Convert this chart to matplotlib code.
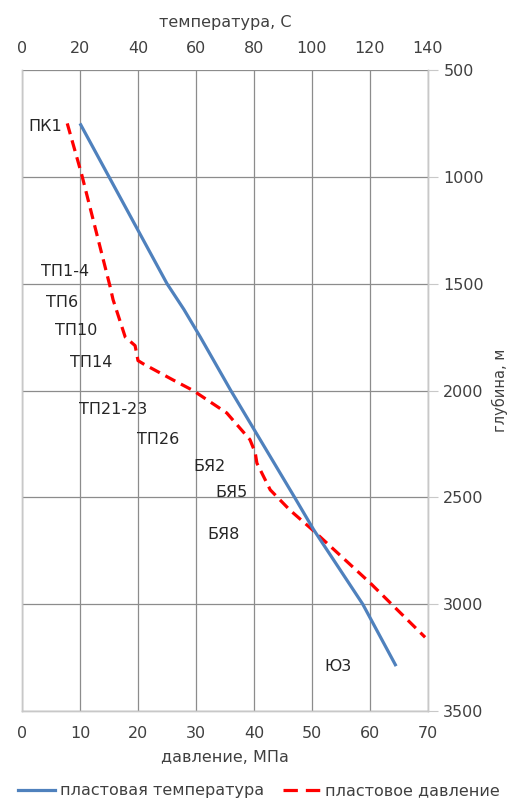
import matplotlib
matplotlib.use("Agg")
import matplotlib.pyplot as plt
from matplotlib.lines import Line2D

plt.rcParams["font.family"] = ["DejaVu Sans"]
plt.rcParams["font.size"] = 11.5

# temperature profile (depth, m -> temperature, C)
temp_depth = [750, 1000, 1250, 1500, 1620, 1750, 2000, 2250, 2500, 2650, 3000, 3290]
temp_values = [20, 30, 40, 50, 55.8, 61.5, 72, 83, 94, 100.5, 117.5, 129]

# pressure profile (depth, m -> pressure, MPa)
pres_depth = [750, 990, 1515, 1575, 1750, 1790, 1860, 1875, 1950, 2000, 2105, 2230,
              2290, 2340, 2465, 2560, 2655, 2900, 3155]
pres_values = [7.8, 10.3, 15.2, 15.7, 17.8, 19.5, 20.0, 20.9, 26.0, 29.5, 35.3, 39.3,
               40.2, 40.5, 42.8, 46.2, 50.2, 60.0, 69.5]

# layer labels: (name, pressure-axis x, depth)
layer_names = ["ПК1", "ТП1-4", "ТП6", "ТП10", "ТП14", "ТП21-23", "ТП26",
               "БЯ2", "БЯ5", "БЯ8", "Ю3"]
layer_x = [4.0, 7.4, 6.9, 9.3, 11.9, 15.7, 23.4, 32.4, 36.2, 34.7, 54.5]
layer_depth = [763, 1445, 1586, 1717, 1871, 2091, 2231, 2358, 2479, 2676, 3294]

pres_ticks = list(range(0, 71, 10))
temp_ticks = list(range(0, 141, 20))
depth_ticks = list(range(500, 3501, 500))

BLUE = "#4F81BD"
RED = "#FF0000"
GRID = "#8c8c8c"
SPINE = "#c8c8c8"
TEXT = "#404040"

fig = plt.figure(figsize=(5.18, 7.99), dpi=100)
ax = fig.add_axes([22 / 518, 1 - 711 / 799, 406 / 518, 641 / 799])
ax_t = ax.twiny()

ax.set_xlim(0, 70)
ax.set_ylim(3500, 500)
ax_t.set_xlim(0, 140)

ax.set_xticks(pres_ticks)
ax.set_yticks(depth_ticks)
ax_t.set_xticks(temp_ticks)

ax.grid(True, color=GRID, linewidth=0.9)
ax.set_axisbelow(True)

for a in (ax, ax_t):
    for side in a.spines:
        a.spines[side].set_color(SPINE)
        a.spines[side].set_linewidth(1.0)
    a.spines["top"].set_visible(False)

ax.yaxis.tick_right()
ax.yaxis.set_label_position("right")
ax.tick_params(axis="y", which="both", length=7, color=SPINE, pad=4, labelcolor=TEXT)
ax.tick_params(axis="x", length=0, pad=11, labelcolor=TEXT)
ax_t.tick_params(axis="x", length=0, pad=10, labelcolor=TEXT)

ax.set_xlabel("давление, МПа", color=TEXT, labelpad=6)
ax_t.set_xlabel("температура, С", color=TEXT, labelpad=10)
ax.set_ylabel("глубина, м", color=TEXT, labelpad=6, fontsize=10.5)

ax_t.plot(temp_values, temp_depth, color=BLUE, linewidth=2.3, solid_capstyle="butt")
ax.plot(pres_values, pres_depth, color=RED, linewidth=2.3, dashes=(3.5, 2.0))

for name, x, d in zip(layer_names, layer_x, layer_depth):
    ax.text(x, d, name, ha="center", va="center", color="#262626")

# legend handles: solid blue and a two-dash red sample
handles = [Line2D([], [], color=BLUE, linewidth=2.3),
           Line2D([], [], color=RED, linewidth=2.3, dashes=(4.5, 2.5))]
fig.legend(handles, ["пластовая температура", "пластовое давление"],
           loc="lower center", bbox_to_anchor=(0.5, -0.017), ncol=2, frameon=False,
           handlelength=2.3, handletextpad=0.3, columnspacing=1.2,
           labelcolor=TEXT)

fig.savefig("out.png", dpi=100)
